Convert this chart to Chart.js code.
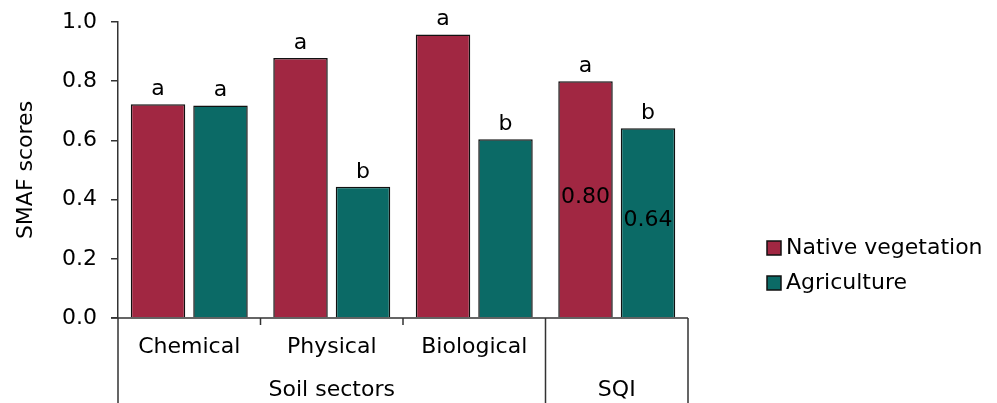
<!DOCTYPE html>
<html>
<head>
<meta charset="utf-8">
<script src="https://cdn.jsdelivr.net/npm/chart.js@4.4.0/dist/chart.umd.min.js"></script>
<style>
html, body { margin: 0; padding: 0; background: #fff; }
#wrap { width: 997px; height: 403px; }
</style>
</head>
<body>
<div id="wrap"><canvas id="grafico" width="997" height="403"></canvas></div>
<script>
const categorias = ["Chemical", "Physical", "Biological", "SQI"];
const nativa = [0.722, 0.878, 0.958, 0.80];
const agricultura = [0.718, 0.443, 0.604, 0.641];
const letrasNativa = ["a", "a", "a", "a"];
const letrasAgri = ["a", "b", "b", "b"];
const mostrarValor = [false, false, false, true];
const grupos = ["Soil sectors", "SQI"];
const grupoInicio = [0, 3];
const grupoFim = [2, 3];
const yMin = 0, yMax = 1.0, yPasso = 0.2;

const FONTE = "22px 'DejaVu Sans'";
const COR_LINHA = "#333";

const extras = {
    id: "extras",
    afterDatasetsDraw(chart) {
        const ctx = chart.ctx;
        const x = chart.scales.x;
        const area = chart.chartArea;
        const larg = x.getPixelForValue(1) - x.getPixelForValue(0);
        const fundo = chart.height;

        ctx.save();
        ctx.font = FONTE;
        ctx.fillStyle = "#000";
        ctx.textAlign = "center";

        // letras de significancia e valores do SQI
        [letrasNativa, letrasAgri].forEach((letras, d) => {
            chart.getDatasetMeta(d).data.forEach((bar, i) => {
                ctx.textBaseline = "alphabetic";
                ctx.fillText(letras[i], bar.x, bar.y - 9);
                if (mostrarValor[i]) {
                    ctx.textBaseline = "middle";
                    const v = chart.data.datasets[d].data[i];
                    ctx.fillText(v.toFixed(2), bar.x, (bar.y + bar.base) / 2 - 2);
                }
            });
        });

        // linhas do eixo x
        ctx.strokeStyle = COR_LINHA;
        ctx.lineWidth = 1.5;
        ctx.beginPath();
        ctx.moveTo(area.left - 7, area.bottom);
        ctx.lineTo(area.right, area.bottom);
        ctx.moveTo(area.left, area.bottom);
        ctx.lineTo(area.left, fundo);
        for (let i = 0; i < categorias.length; i++) {
            const xb = x.getPixelForValue(i) + larg / 2;
            const fimGrupo = grupoFim.includes(i);
            ctx.moveTo(xb, area.bottom);
            ctx.lineTo(xb, fimGrupo ? fundo : area.bottom + 7);
        }
        ctx.stroke();

        // rotulos das categorias (SQI so aparece na linha dos grupos)
        ctx.textBaseline = "middle";
        categorias.forEach((c, i) => {
            if (grupos.includes(c)) return;
            ctx.fillText(c, x.getPixelForValue(i), area.bottom + 29);
        });

        // rotulos dos grupos
        grupos.forEach((g, k) => {
            const xc = (x.getPixelForValue(grupoInicio[k]) + x.getPixelForValue(grupoFim[k])) / 2;
            ctx.fillText(g, xc, area.bottom + 72);
        });

        // legenda
        ctx.textAlign = "left";
        chart.data.datasets.forEach((ds, d) => {
            const ly = 248 + d * 35;
            ctx.fillStyle = ds.backgroundColor;
            ctx.fillRect(767, ly - 7, 14, 14);
            ctx.strokeStyle = "#111";
            ctx.lineWidth = 1.5;
            ctx.strokeRect(767, ly - 7, 14, 14);
            ctx.fillStyle = "#000";
            ctx.fillText(ds.label, 786, ly);
        });
        ctx.restore();
    }
};

new Chart(document.getElementById("grafico").getContext("2d"), {
    type: "bar",
    data: {
        labels: categorias,
        datasets: [
            {
                label: "Native vegetation",
                data: nativa,
                backgroundColor: "#A12742",
                borderColor: "#111",
                borderWidth: 1.5,
                borderSkipped: "bottom",
            },
            {
                label: "Agriculture",
                data: agricultura,
                backgroundColor: "#0B6A66",
                borderColor: "#111",
                borderWidth: 1.5,
                borderSkipped: "bottom",
            },
        ],
    },
    options: {
        responsive: false,
        animation: false,
        devicePixelRatio: 1,
        categoryPercentage: 0.877,
        barPercentage: 0.872,
        layout: { padding: { left: 0, top: 22, right: 309, bottom: 85 } },
        plugins: {
            legend: { display: false },
            tooltip: { enabled: false },
        },
        scales: {
            x: { display: false },
            y: {
                min: yMin,
                max: yMax,
                afterFit: scale => {
                    scale.width = 118;
                    scale.paddingTop = 10;
                    scale.paddingBottom = 10;
                },
                ticks: {
                    stepSize: yPasso,
                    padding: 14,
                    color: "#000",
                    font: { family: "DejaVu Sans", size: 22 },
                    callback: v => v.toFixed(1),
                },
                grid: {
                    drawOnChartArea: false,
                    tickLength: 7,
                    color: COR_LINHA,
                    lineWidth: 1.5,
                },
                border: { color: COR_LINHA, width: 1.5 },
                title: {
                    display: true,
                    text: "SMAF scores",
                    color: "#000",
                    font: { family: "DejaVu Sans", size: 22 },
                    padding: { top: 13 },
                },
            },
        },
    },
    plugins: [extras],
});
</script>
</body>
</html>
